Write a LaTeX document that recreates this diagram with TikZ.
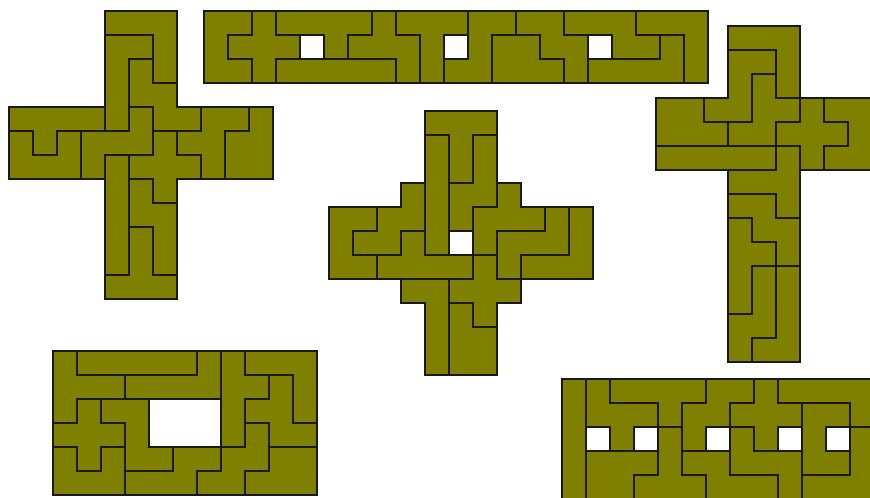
\documentclass[tikz,border=0pt]{standalone}
\usepackage{xcolor}
\usepackage{tikz}

\definecolor{olivetile}{RGB}{128,128,0}

% a tiling is given row by row, one letter per cell:
% same letter = same pentomino, '-' = empty
\newcount\cellcol
\def\storerow#1#2#3{\def\figname{#1}\def\rowno{#2}\cellcol=0
  \expandafter\readcells#3\relax}
\def\readcells#1{\ifx#1\relax\xdef\lastcol{\the\cellcol}\else
    \expandafter\xdef\csname cell@\figname @\rowno @\the\cellcol\endcsname{#1}%
    \advance\cellcol by 1
    \expandafter\readcells\fi}
\def\cellof#1#2#3{\ifcsname cell@#1@#2@#3\endcsname\csname cell@#1@#2@#3\endcsname\else-\fi}

\newcommand\tiling[3]{%
  \foreach \row [count=\r from 0] in {#3} {\storerow{#1}{\r}{\row}\xdef\lastrow{\r}}
  \pgfmathtruncatemacro\maxc{\lastcol-1}
  \begin{scope}[shift={#2}]
    % cells
    \foreach \r in {0,...,\lastrow} {\foreach \c in {0,...,\maxc} {
      \edef\cur{\cellof{#1}{\r}{\c}}
      \if-\cur\else\path[piece] (\c,\r) rectangle ++(1,1);\fi}}
    % borders between different pieces
    \foreach \r in {-1,...,\lastrow} {\foreach \c in {-1,...,\maxc} {
      \pgfmathtruncatemacro\cn{\c+1}
      \pgfmathtruncatemacro\rn{\r+1}
      \edef\cur{\cellof{#1}{\r}{\c}}
      \edef\rgt{\cellof{#1}{\r}{\cn}}
      \edef\dwn{\cellof{#1}{\rn}{\c}}
      \ifx\cur\rgt\else\draw[seam] (\cn,\r) -- (\cn,\rn);\fi
      \ifx\cur\dwn\else\draw[seam] (\c,\rn) -- (\cn,\rn);\fi}}
  \end{scope}}

\begin{document}
\begin{tikzpicture}[
    x=0.6cm, y=-0.6cm,
    piece/.style={fill=olivetile, draw=olivetile, line width=0.2pt},
    seam/.style={draw=black!90, line width=1.4pt, line cap=rect}
]
\path[use as bounding box, fill=white] (0,0) rectangle (36.25,20.71);
\clip (0,0) rectangle (36.25,20.71);

% left cross
\tiling{cross}{(0.375,0.458)}{
  ----VVV----, ----LLV----, ----LWV----, ----LWW----,
  YYYYLZWWFFP, UYUZZZXFFPP, UUUZIXXXFPP,
  ----INX----, ----INN----, ----ITN----, ----ITN----, ----TTT----}

% top bar
\tiling{bar}{(8.5,0.458)}{
  UUXYYYYFTTTZZWWNNNVVV,
  UXXX-YFFFT-ZPPWW-NNLV,
  UUXIIIIIFTZZPPPWLLLLV}

% middle
\tiling{star}{(13.708,4.625)}{
  ----TTT----, ----ITN----, ----ITN----, ---WINNF---,
  UUWWINFFFZV, UWWYI-FZZZV, UUYYYYXZVVV,
  ---LLXXX---, ----LPX----, ----LPP----, ----LPP----}

% right cross
\tiling{rcross}{(27.333,1.083)}{
  ---VVV---, ---ZZV---, ---ZFV---,
  PPZZFFXUU, PPPFFXXXU, IIIIITXUU,
  ---TTT---, ---WWT---, ---YWW---, ---YYW---,
  ---YNL---, ---YNL---, ---NNL---, ---NLL---}

% bottom left frame
\tiling{frame}{(2.208,14.625)}{
  TIIIIILYVVV, TTTLLLLYYFV, TXZZ---YFFV,
  XXXZ---YWFF, UXUZZNNWWPP, UUUNNNWWPPP}

% bottom right strip
\tiling{strip}{(23.417,15.792)}{
  IFYYYYWWXLLLL, IFFFYWWXXXUUL, I-F-TW-ZX-U-V,
  IPPPTNNZZZUUV, IPPTTTNNNZVVV}

\end{tikzpicture}
\end{document}
